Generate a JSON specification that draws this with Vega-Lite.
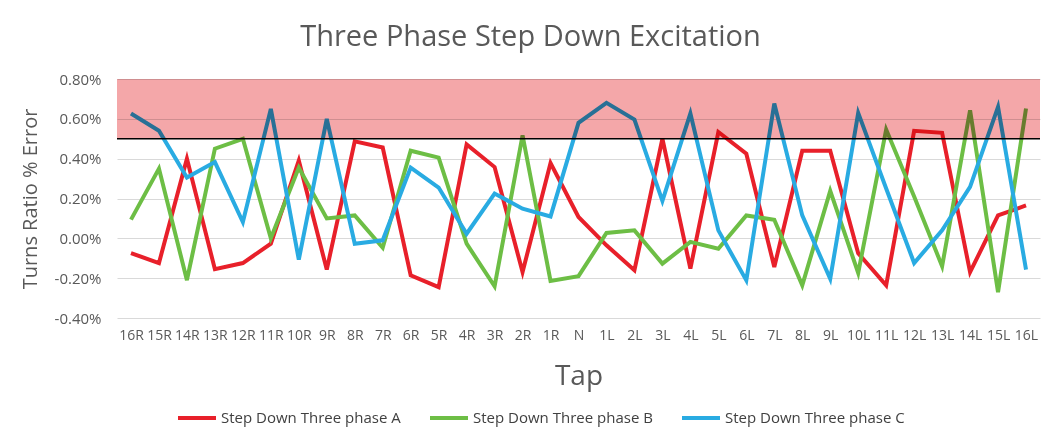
{
  "$schema": "https://vega.github.io/schema/vega-lite/v6.json",
  "width": 923,
  "height": 239,
  "autosize": {"type": "none"},
  "padding": {"left": 117, "top": 79, "right": 2, "bottom": 118},
  "background": "white",
  "config": {
    "font": "Open Sans",
    "view": {"stroke": null},
    "axis": {"labelColor": "#595959", "titleColor": "#595959", "labelFont": "Open Sans", "titleFont": "Open Sans", "titleFontWeight": "normal"},
    "legend": {"labelFont": "Open Sans"}
  },
  "title": {
    "text": "Three Phase Step Down Excitation",
    "fontSize": 29,
    "fontWeight": "normal",
    "color": "#595959",
    "anchor": "middle",
    "frame": "group",
    "dx": -48,
    "offset": 20
  },
  "datasets": {
    "series": [
      {"tap":"16R","series":"Step Down Three phase A","value":-0.074},
      {"tap":"15R","series":"Step Down Three phase A","value":-0.124},
      {"tap":"14R","series":"Step Down Three phase A","value":0.40},
      {"tap":"13R","series":"Step Down Three phase A","value":-0.155},
      {"tap":"12R","series":"Step Down Three phase A","value":-0.124},
      {"tap":"11R","series":"Step Down Three phase A","value":-0.027},
      {"tap":"10R","series":"Step Down Three phase A","value":0.39},
      {"tap":"9R","series":"Step Down Three phase A","value":-0.157},
      {"tap":"8R","series":"Step Down Three phase A","value":0.487},
      {"tap":"7R","series":"Step Down Three phase A","value":0.456},
      {"tap":"6R","series":"Step Down Three phase A","value":-0.186},
      {"tap":"5R","series":"Step Down Three phase A","value":-0.245},
      {"tap":"4R","series":"Step Down Three phase A","value":0.472},
      {"tap":"3R","series":"Step Down Three phase A","value":0.358},
      {"tap":"2R","series":"Step Down Three phase A","value":-0.169},
      {"tap":"1R","series":"Step Down Three phase A","value":0.378},
      {"tap":"N","series":"Step Down Three phase A","value":0.107},
      {"tap":"1L","series":"Step Down Three phase A","value":-0.035},
      {"tap":"2L","series":"Step Down Three phase A","value":-0.16},
      {"tap":"3L","series":"Step Down Three phase A","value":0.50},
      {"tap":"4L","series":"Step Down Three phase A","value":-0.152},
      {"tap":"5L","series":"Step Down Three phase A","value":0.534},
      {"tap":"6L","series":"Step Down Three phase A","value":0.425},
      {"tap":"7L","series":"Step Down Three phase A","value":-0.144},
      {"tap":"8L","series":"Step Down Three phase A","value":0.44},
      {"tap":"9L","series":"Step Down Three phase A","value":0.44},
      {"tap":"10L","series":"Step Down Three phase A","value":-0.075},
      {"tap":"11L","series":"Step Down Three phase A","value":-0.236},
      {"tap":"12L","series":"Step Down Three phase A","value":0.54},
      {"tap":"13L","series":"Step Down Three phase A","value":0.53},
      {"tap":"14L","series":"Step Down Three phase A","value":-0.17},
      {"tap":"15L","series":"Step Down Three phase A","value":0.115},
      {"tap":"16L","series":"Step Down Three phase A","value":0.165},
      {"tap":"16R","series":"Step Down Three phase B","value":0.094},
      {"tap":"15R","series":"Step Down Three phase B","value":0.35},
      {"tap":"14R","series":"Step Down Three phase B","value":-0.21},
      {"tap":"13R","series":"Step Down Three phase B","value":0.45},
      {"tap":"12R","series":"Step Down Three phase B","value":0.50},
      {"tap":"11R","series":"Step Down Three phase B","value":0.0},
      {"tap":"10R","series":"Step Down Three phase B","value":0.355},
      {"tap":"9R","series":"Step Down Three phase B","value":0.10},
      {"tap":"8R","series":"Step Down Three phase B","value":0.115},
      {"tap":"7R","series":"Step Down Three phase B","value":-0.047},
      {"tap":"6R","series":"Step Down Three phase B","value":0.44},
      {"tap":"5R","series":"Step Down Three phase B","value":0.405},
      {"tap":"4R","series":"Step Down Three phase B","value":-0.027},
      {"tap":"3R","series":"Step Down Three phase B","value":-0.241},
      {"tap":"2R","series":"Step Down Three phase B","value":0.517},
      {"tap":"1R","series":"Step Down Three phase B","value":-0.214},
      {"tap":"N","series":"Step Down Three phase B","value":-0.19},
      {"tap":"1L","series":"Step Down Three phase B","value":0.027},
      {"tap":"2L","series":"Step Down Three phase B","value":0.04},
      {"tap":"3L","series":"Step Down Three phase B","value":-0.127},
      {"tap":"4L","series":"Step Down Three phase B","value":-0.018},
      {"tap":"5L","series":"Step Down Three phase B","value":-0.052},
      {"tap":"6L","series":"Step Down Three phase B","value":0.115},
      {"tap":"7L","series":"Step Down Three phase B","value":0.093},
      {"tap":"8L","series":"Step Down Three phase B","value":-0.236},
      {"tap":"9L","series":"Step Down Three phase B","value":0.238},
      {"tap":"10L","series":"Step Down Three phase B","value":-0.174},
      {"tap":"11L","series":"Step Down Three phase B","value":0.546},
      {"tap":"12L","series":"Step Down Three phase B","value":0.21},
      {"tap":"13L","series":"Step Down Three phase B","value":-0.14},
      {"tap":"14L","series":"Step Down Three phase B","value":0.643},
      {"tap":"15L","series":"Step Down Three phase B","value":-0.27},
      {"tap":"16L","series":"Step Down Three phase B","value":0.652},
      {"tap":"16R","series":"Step Down Three phase C","value":0.627},
      {"tap":"15R","series":"Step Down Three phase C","value":0.54},
      {"tap":"14R","series":"Step Down Three phase C","value":0.305},
      {"tap":"13R","series":"Step Down Three phase C","value":0.383},
      {"tap":"12R","series":"Step Down Three phase C","value":0.082},
      {"tap":"11R","series":"Step Down Three phase C","value":0.65},
      {"tap":"10R","series":"Step Down Three phase C","value":-0.107},
      {"tap":"9R","series":"Step Down Three phase C","value":0.60},
      {"tap":"8R","series":"Step Down Three phase C","value":-0.027},
      {"tap":"7R","series":"Step Down Three phase C","value":-0.01},
      {"tap":"6R","series":"Step Down Three phase C","value":0.355},
      {"tap":"5R","series":"Step Down Three phase C","value":0.255},
      {"tap":"4R","series":"Step Down Three phase C","value":0.023},
      {"tap":"3R","series":"Step Down Three phase C","value":0.225},
      {"tap":"2R","series":"Step Down Three phase C","value":0.149},
      {"tap":"1R","series":"Step Down Three phase C","value":0.11},
      {"tap":"N","series":"Step Down Three phase C","value":0.58},
      {"tap":"1L","series":"Step Down Three phase C","value":0.68},
      {"tap":"2L","series":"Step Down Three phase C","value":0.596},
      {"tap":"3L","series":"Step Down Three phase C","value":0.188},
      {"tap":"4L","series":"Step Down Three phase C","value":0.627},
      {"tap":"5L","series":"Step Down Three phase C","value":0.04},
      {"tap":"6L","series":"Step Down Three phase C","value":-0.211},
      {"tap":"7L","series":"Step Down Three phase C","value":0.677},
      {"tap":"8L","series":"Step Down Three phase C","value":0.115},
      {"tap":"9L","series":"Step Down Three phase C","value":-0.203},
      {"tap":"10L","series":"Step Down Three phase C","value":0.63},
      {"tap":"11L","series":"Step Down Three phase C","value":0.25},
      {"tap":"12L","series":"Step Down Three phase C","value":-0.124},
      {"tap":"13L","series":"Step Down Three phase C","value":0.04},
      {"tap":"14L","series":"Step Down Three phase C","value":0.258},
      {"tap":"15L","series":"Step Down Three phase C","value":0.66},
      {"tap":"16L","series":"Step Down Three phase C","value":-0.157}
    ],
    "band": [{"value": 0.5, "high": 0.8}],
    "limit": [{"value": 0.5}]
  },
  "encoding": {
    "y": {
      "field": "value",
      "type": "quantitative",
      "scale": {"domain": [-0.4, 0.8], "nice": false, "zero": false},
      "axis": {
        "title": "Turns Ratio % Error",
        "titleFontSize": 20,
        "titlePadding": 14,
        "values": [-0.4, -0.2, 0, 0.2, 0.4, 0.6, 0.8],
        "labelExpr": "replace(format(datum.value, '.2f'), '\u2212', '-') + '%'",
        "labelFontSize": 15,
        "labelOverlap": false,
        "labelPadding": 16,
        "ticks": false,
        "domain": false,
        "grid": true,
        "gridColor": "#D9D9D9",
        "gridWidth": 1
      }
    }
  },
  "layer": [
    {
      "data": {"name": "series"},
      "mark": {"type": "line", "strokeWidth": 4, "strokeJoin": "miter"},
      "encoding": {
        "x": {
          "field": "tap",
          "type": "ordinal",
          "sort": ["16R","15R","14R","13R","12R","11R","10R","9R","8R","7R","6R","5R","4R","3R","2R","1R","N","1L","2L","3L","4L","5L","6L","7L","8L","9L","10L","11L","12L","13L","14L","15L","16L"],
          "scale": {"type": "point", "padding": 0.5},
          "axis": {
            "title": "Tap",
            "titleFontSize": 28,
            "titlePadding": 20,
            "labelFontSize": 14,
            "labelAngle": 0,
            "labelOverlap": false,
            "labelPadding": 10,
            "ticks": false,
            "domain": false,
            "grid": false
          }
        },
        "color": {
          "field": "series",
          "type": "nominal",
          "scale": {
            "domain": ["Step Down Three phase A", "Step Down Three phase B", "Step Down Three phase C"],
            "range": ["#E8202A", "#6DBE45", "#29ABE2"]
          },
          "legend": {
            "title": null,
            "orient": "none",
            "direction": "horizontal",
            "columns": 3,
            "gridAlign": "all",
            "columnPadding": 21,
            "legendX": 59,
            "legendY": 318,
            "symbolType": "stroke",
            "symbolSize": 1444,
            "symbolStrokeWidth": 4,
            "labelFontSize": 15,
            "labelColor": "#404040",
            "labelOffset": 3,
            "labelLimit": 300
          }
        }
      }
    },
    {
      "data": {"name": "band"},
      "mark": {"type": "rect", "color": "#F4A7A9", "blend": "multiply"},
      "encoding": {
        "y2": {"field": "high"}
      }
    },
    {
      "data": {"name": "limit"},
      "mark": {"type": "rule", "color": "#000000", "strokeWidth": 1.5},
      "encoding": {}
    }
  ]
}
